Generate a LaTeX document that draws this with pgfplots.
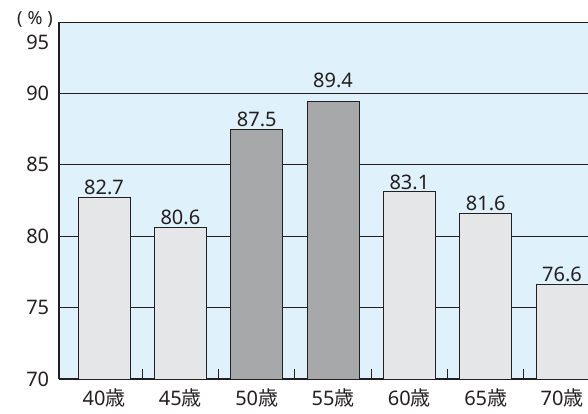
\documentclass[border=0pt]{standalone}
\usepackage{pgfplots}
\pgfplotsset{compat=1.18}
\usepackage{fontspec}
\setmainfont{Noto Sans}
\newfontfamily\cjk{Noto Sans CJK JP}
\definecolor{bgblue}{HTML}{DFF1FB}
\definecolor{lightbar}{HTML}{E5E6E7}
\definecolor{darkbar}{HTML}{A7A8AA}
\definecolor{lineclr}{HTML}{231F20}
\begin{document}
\fontsize{20}{24}\selectfont
\begin{tikzpicture}
\begin{axis}[
  at={(0,0)}, anchor=south west,
  scale only axis, width=529pt, height=357pt,
  xmin=-0.59, xmax=6.34, ymin=70, ymax=95,
  axis x line*=bottom, axis y line*=left,
  axis line style={line width=2pt, color=lineclr, -},
  axis background/.style={fill=bgblue},
  ybar, bar width=52pt,
  ytick={70,75,80,85,90},
  extra y ticks={95},
  extra y tick style={grid=none, yticklabel style={yshift=-20pt}},
  ymajorgrids, major grid style={line width=1pt, color=lineclr},
  xtick={0,1,2,3,4,5,6},
  xticklabels={40{\cjk 歳},45{\cjk 歳},50{\cjk 歳},55{\cjk 歳},60{\cjk 歳},65{\cjk 歳},70{\cjk 歳}},
  minor xtick={0.5,1.5,2.5,3.5,4.5,5.5},
  major tick length=0pt,
  minor tick length=10pt,
  tick align=inside,
  minor tick style={line width=1pt, color=lineclr},
  /pgf/number format/assume math mode=true,
  tick label style={font=\fontsize{20}{24}\selectfont, text=lineclr},
  yticklabel style={xshift=-3pt},
  xticklabel style={yshift=-3pt},
  nodes near coords={\pgfmathprintnumber[fixed,fixed zerofill,precision=1,assume math mode=true]{\pgfplotspointmeta}},
  nodes near coords style={font=\fontsize{20}{24}\selectfont, text=lineclr, inner sep=2pt},
  every axis plot/.append style={draw=lineclr, line width=1pt, bar shift=0pt},
]
\addplot[fill=lightbar] coordinates {(0,82.7) (1,80.6) (4,83.1) (5,81.6) (6,76.6)};
\addplot[fill=darkbar] coordinates {(2,87.5)};
\addplot[fill=darkbar, nodes near coords style={yshift=12pt}] coordinates {(3,89.4)};
\draw[line width=2pt, color=lineclr] (rel axis cs:0,1) -- (rel axis cs:1,1);
\end{axis}
\node[font=\fontsize{18}{20}\selectfont, text=lineclr] at (-24pt,360pt) {(\;\%\;)};
\pgfresetboundingbox
\path[use as bounding box] (-59pt,-34pt) rectangle (529pt,379pt);
\end{tikzpicture}
\end{document}
